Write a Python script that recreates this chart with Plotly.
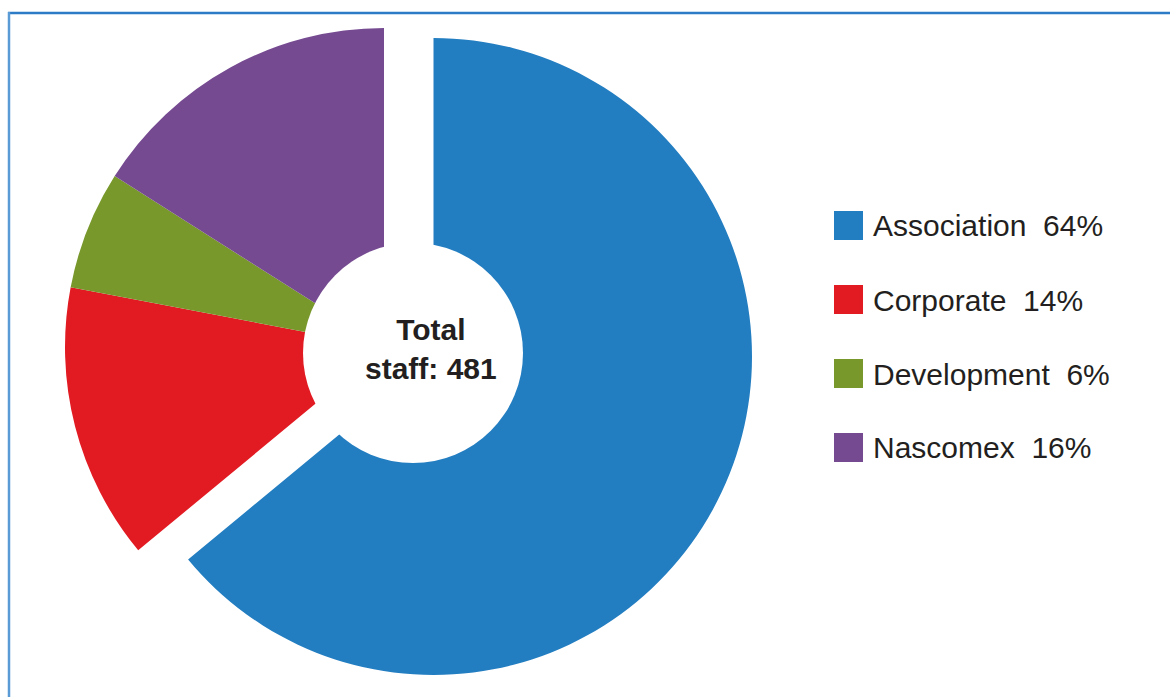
import plotly.graph_objects as go

# ---- data -------------------------------------------------------------
CATEGORIES = ["Association", "Corporate", "Development", "Nascomex"]
SHARES = [64, 14, 6, 16]            # percent of total staff
COLORS = ["#227DC1", "#E21B23", "#78982C", "#754A91"]
TOTAL_STAFF = 481
PULLED = "Association"              # slice drawn detached from the rest

# ---- layout helpers ---------------------------------------------------
W, H = 1170, 697
FONT = "Liberation Sans, Arial, Helvetica, sans-serif"
TEXT_COLOR = "#231F20"
TRANSPARENT = "rgba(0,0,0,0)"


def px_domain(cx, cy, r):
    return dict(x=[(cx - r) / W, (cx + r) / W],
                y=[1 - (cy + r) / H, 1 - (cy - r) / H])


def px(x):
    return x / W


def py(y):
    return 1 - y / H


fig = go.Figure()

# detached slice
fig.add_trace(go.Pie(
    labels=CATEGORIES, values=SHARES, sort=False, direction="clockwise",
    rotation=0, hole=0.15,
    marker=dict(colors=[c if k == PULLED else TRANSPARENT
                        for k, c in zip(CATEGORIES, COLORS)],
                line=dict(width=0)),
    textinfo="none", hoverinfo="label+percent", showlegend=False,
    domain=px_domain(433.5, 356.5, 318.5),
))

# remaining slices
fig.add_trace(go.Pie(
    labels=CATEGORIES, values=SHARES, sort=False, direction="clockwise",
    rotation=0, hole=0.15,
    marker=dict(colors=[TRANSPARENT if k == PULLED else c
                        for k, c in zip(CATEGORIES, COLORS)],
                line=dict(width=0)),
    textinfo="none", hoverinfo="label+percent", showlegend=False,
    domain=px_domain(384, 347, 319),
))

shapes = [
    # centre hole
    dict(type="circle", xref="paper", yref="paper",
         x0=px(413 - 110), x1=px(413 + 110), y0=py(353 + 110), y1=py(353 - 110),
         fillcolor="white", line=dict(width=0), layer="above"),
    # frame
    dict(type="line", xref="paper", yref="paper",
         x0=px(8), x1=px(W + 5), y0=py(13), y1=py(13),
         line=dict(color="#2B7BC6", width=2.5)),
    dict(type="line", xref="paper", yref="paper",
         x0=px(9), x1=px(9), y0=py(12), y1=py(H + 5),
         line=dict(color="#5B9BD5", width=2.5)),
]

annotations = [
    dict(text=f"<b>Total<br>staff: {TOTAL_STAFF}</b>", xref="paper", yref="paper",
         x=px(431), y=py(349), xanchor="center", yanchor="middle",
         showarrow=False, align="center",
         font=dict(family=FONT, size=30, color=TEXT_COLOR)),
]

# legend (swatches + labels)
ROW0, ROW_STEP, SW = 225.5, 74, 29
for i, (cat, share, col) in enumerate(zip(CATEGORIES, SHARES, COLORS)):
    yc = ROW0 + i * ROW_STEP
    shapes.append(dict(type="rect", xref="paper", yref="paper",
                       x0=px(834), x1=px(834 + SW),
                       y0=py(yc + SW / 2), y1=py(yc - SW / 2),
                       fillcolor=col, line=dict(width=0), layer="above"))
    annotations.append(dict(text=f"{cat}\u00a0\u00a0{share}%", xref="paper", yref="paper",
                            x=px(871), y=py(yc + 0.5), xanchor="left", yanchor="middle",
                            showarrow=False,
                            font=dict(family=FONT, size=30, color=TEXT_COLOR)))

fig.update_layout(
    width=W, height=H, autosize=False,
    margin=dict(l=0, r=0, t=0, b=0),
    paper_bgcolor="white", plot_bgcolor="white",
    showlegend=False,
    shapes=shapes, annotations=annotations,
    font=dict(family=FONT, color=TEXT_COLOR),
)

fig.write_html("out.html",
               config={"displayModeBar": False},
               post_script="document.body.style.margin='0';document.body.style.overflow='hidden';")
